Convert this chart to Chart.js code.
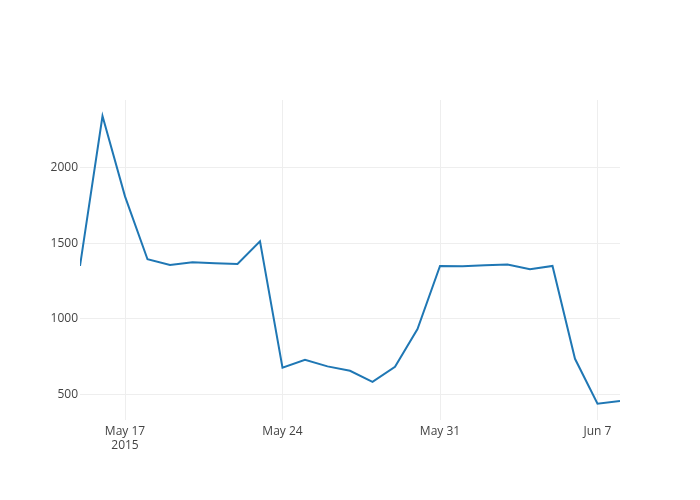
<!DOCTYPE html>
<html lang="en">
<head>
    <meta charset="UTF-8">
    <title>Line chart</title>
    <script src="https://cdn.jsdelivr.net/npm/chart.js"></script>
    <style>
        html, body { margin: 0; padding: 0; background: #fff; }
        #wrap { width: 700px; height: 500px; }
    </style>
</head>
<body>
<div id="wrap"><canvas id="chart" width="700" height="500"></canvas></div>
<script>
    // daily dates, May 15 - Jun 8 2015
    var days = ["May 15", "May 16", "May 17", "May 18", "May 19", "May 20", "May 21", "May 22", "May 23",
        "May 24", "May 25", "May 26", "May 27", "May 28", "May 29", "May 30", "May 31",
        "Jun 1", "Jun 2", "Jun 3", "Jun 4", "Jun 5", "Jun 6", "Jun 7", "Jun 8"];
    var values = [1350, 2342, 1810, 1394, 1356, 1374, 1368, 1363, 1513,
        676, 729, 685, 656, 583, 682, 932, 1350,
        1348, 1355, 1359, 1328, 1350, 735, 438, 456];

    // tick positions (day index) and labels
    var xTickPos = [2, 9, 16, 23];
    var xTickLabels = [["May 17", "2015"], ["May 24"], ["May 31"], ["Jun 7"]];
    var yTicks = [500, 1000, 1500, 2000];

    var points = values.map(function(v, i) { return { x: i, y: v }; });

    var ctx = document.getElementById('chart').getContext('2d');
    new Chart(ctx, {
        type: 'line',
        data: {
            datasets: [{
                data: points,
                borderColor: '#1f77b4',
                borderWidth: 2,
                pointRadius: 0,
                tension: 0,
                fill: false
            }]
        },
        options: {
            responsive: false,
            animation: false,
            layout: { padding: { left: 0, right: 80, top: 100, bottom: 0 } },
            plugins: { legend: { display: false }, tooltip: { enabled: false } },
            scales: {
                x: {
                    type: 'linear',
                    min: 0,
                    max: days.length - 1,
                    afterBuildTicks: function(scale) {
                        scale.ticks = xTickPos.map(function(p) { return { value: p }; });
                    },
                    afterFit: function(scale) { scale.height = 80; },
                    grid: { color: '#eeeeee', drawTicks: false, lineWidth: 1 },
                    border: { display: false },
                    ticks: {
                        autoSkip: false,
                        maxRotation: 0,
                        padding: 4,
                        color: '#444',
                        font: { family: 'Open Sans', size: 12 },
                        callback: function(v) {
                            var i = xTickPos.indexOf(v);
                            return i >= 0 ? xTickLabels[i] : '';
                        }
                    }
                },
                y: {
                    min: 330,
                    max: 2448,
                    afterBuildTicks: function(scale) {
                        scale.ticks = yTicks.map(function(t) { return { value: t }; });
                    },
                    afterFit: function(scale) { scale.width = 80; },
                    grid: { color: '#eeeeee', drawTicks: false, lineWidth: 1 },
                    border: { display: false },
                    ticks: {
                        padding: 2,
                        color: '#444',
                        font: { family: 'Open Sans', size: 12 },
                        callback: function(v) { return String(v); }
                    }
                }
            }
        }
    });
</script>
</body>
</html>
